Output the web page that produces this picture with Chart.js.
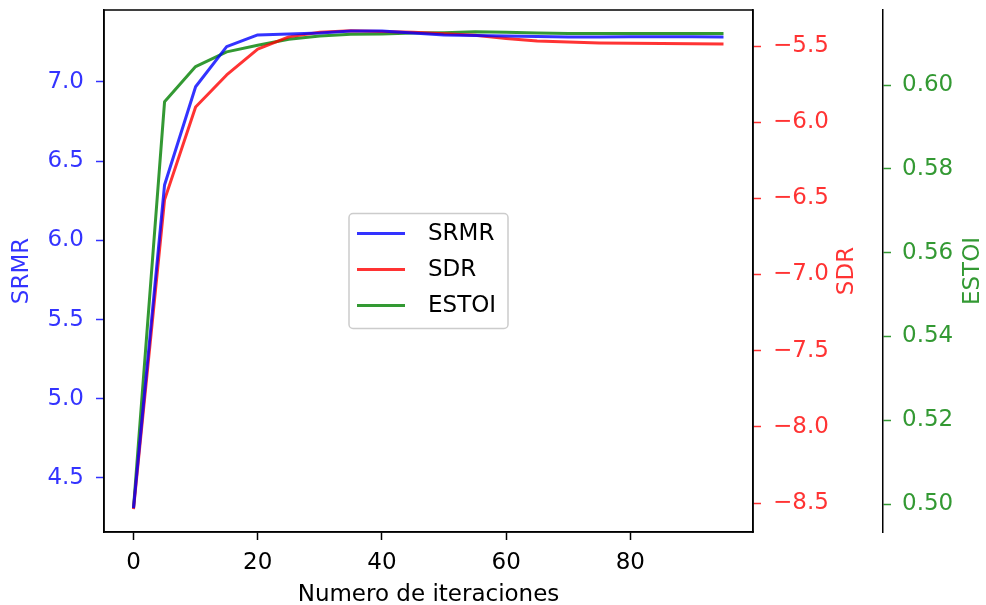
<!DOCTYPE html>
<html>
<head>
<meta charset="utf-8">
<script src="https://cdn.jsdelivr.net/npm/chart.js@4.4.0/dist/chart.umd.min.js"></script>
<style>
  html, body { margin: 0; padding: 0; background: #fff; }
</style>
</head>
<body>
<canvas id="chart" width="986" height="605"></canvas>
<script>
// values
const iterations = [0, 5, 10, 15, 20, 25, 30, 35, 40, 45, 50, 55, 60, 65, 70, 75, 80, 85, 90, 95];
const srmr = [4.31, 6.35, 6.97, 7.223, 7.297, 7.303, 7.309, 7.322, 7.322, 7.309, 7.297, 7.294, 7.29, 7.287, 7.284, 7.284, 7.286, 7.286, 7.286, 7.284];
const sdr = [-8.54, -6.51, -5.90, -5.69, -5.52, -5.44, -5.41, -5.40, -5.405, -5.41, -5.42, -5.43, -5.45, -5.467, -5.474, -5.48, -5.482, -5.483, -5.485, -5.487];
const estoi = [0.499, 0.596, 0.6044, 0.6079, 0.6095, 0.6109, 0.6117, 0.6121, 0.6122, 0.6124, 0.6125, 0.6127, 0.6126, 0.6124, 0.6123, 0.6123, 0.6123, 0.6123, 0.6123, 0.6123];

const xTicks = [0, 20, 40, 60, 80];
const srmrTicks = [4.5, 5.0, 5.5, 6.0, 6.5, 7.0];
const sdrTicks = [-8.5, -8.0, -7.5, -7.0, -6.5, -6.0, -5.5];
const estoiTicks = [0.50, 0.52, 0.54, 0.56, 0.58, 0.60];

const BLUE = 'rgba(0,0,255,0.8)';
const RED = 'rgba(255,0,0,0.8)';
const GREEN = 'rgba(0,128,0,0.8)';
const FONT = { family: 'DejaVu Sans', size: 23 };

const toPoints = (ys) => iterations.map((x, i) => ({ x, y: ys[i] }));
const setTicks = (list) => (axis) => { axis.ticks = list.map((v) => ({ value: v })); };
const fixWidth = (w) => (axis) => { axis.width = w; axis.paddingTop = 0; axis.paddingBottom = 0; };
const minus = (v, d) => (v < 0 ? '\u2212' : '') + Math.abs(v).toFixed(d);

// black box round the plot area
const frame = {
  id: 'frame',
  afterDatasetsDraw(chart) {
    const { ctx, chartArea: a } = chart;
    ctx.save();
    ctx.strokeStyle = '#000';
    ctx.lineWidth = 1.5;
    ctx.strokeRect(a.left, a.top, a.right - a.left, a.bottom - a.top);
    ctx.restore();
  },
};

// right-side axis titles, read bottom to top as in the reference
const rightTitles = {
  id: 'rightTitles',
  afterDraw(chart) {
    const { ctx, chartArea: a } = chart;
    [['ySdr', 36], ['yEstoi', 13]].forEach(([id, off]) => {
      const s = chart.scales[id];
      ctx.save();
      ctx.translate(s.right - off, (a.top + a.bottom) / 2);
      ctx.rotate(-Math.PI / 2);
      ctx.font = `${FONT.size}px ${FONT.family}`;
      ctx.fillStyle = s.options.title.color;
      ctx.textAlign = 'center';
      ctx.textBaseline = 'middle';
      ctx.fillText(s.options.title.text, 0, 0);
      ctx.restore();
    });
  },
};

// legend box in the middle of the plot
const centerLegend = {
  id: 'centerLegend',
  afterDraw(chart) {
    const { ctx, chartArea: a } = chart;
    const w = 159, h = 115;
    const left = (a.left + a.right) / 2 - w / 2;
    const top = (a.top + a.bottom) / 2 - h / 2;
    ctx.save();
    ctx.fillStyle = 'rgba(255,255,255,0.8)';
    ctx.strokeStyle = '#cccccc';
    ctx.lineWidth = 1.5;
    ctx.beginPath();
    ctx.roundRect(left, top, w, h, 4);
    ctx.fill();
    ctx.stroke();
    ctx.font = `${FONT.size}px ${FONT.family}`;
    ctx.textBaseline = 'middle';
    chart.data.datasets.forEach((ds, i) => {
      const y = top + 20 + i * 36;
      ctx.strokeStyle = ds.borderColor;
      ctx.lineWidth = 3;
      ctx.beginPath();
      ctx.moveTo(left + 8, y);
      ctx.lineTo(left + 56, y);
      ctx.stroke();
      ctx.fillStyle = '#000';
      ctx.fillText(ds.label, left + 79, y + 1);
    });
    ctx.restore();
  },
};

new Chart(document.getElementById('chart'), {
  type: 'line',
  data: {
    datasets: [
      { label: 'SRMR', data: toPoints(srmr), yAxisID: 'ySrmr', borderColor: BLUE },
      { label: 'SDR', data: toPoints(sdr), yAxisID: 'ySdr', borderColor: RED },
      { label: 'ESTOI', data: toPoints(estoi), yAxisID: 'yEstoi', borderColor: GREEN },
    ],
  },
  options: {
    responsive: false,
    animation: false,
    layout: { padding: { top: 10, left: 0, right: 0, bottom: 0 } },
    elements: {
      line: { borderWidth: 3, tension: 0, fill: false, borderJoinStyle: 'round' },
      point: { radius: 0, hoverRadius: 0 },
    },
    plugins: { legend: { display: false }, tooltip: { enabled: false } },
    scales: {
      x: {
        type: 'linear',
        position: 'bottom',
        min: -4.75,
        max: 99.75,
        afterBuildTicks: setTicks(xTicks),
        afterFit: (axis) => { axis.height = 73; axis.paddingLeft = 0; axis.paddingRight = 0; },
        ticks: { color: '#000', font: FONT, padding: 9, maxRotation: 0, callback: (v) => String(v) },
        grid: { drawOnChartArea: false, tickLength: 8, tickColor: '#000', tickWidth: 1.5 },
        border: { color: '#000', width: 1.5 },
        title: { display: true, text: 'Numero de iteraciones', color: '#000', font: FONT, padding: { top: 0, bottom: -4 } },
      },
      ySrmr: {
        type: 'linear',
        position: 'left',
        min: 4.159,
        max: 7.4545,
        afterBuildTicks: setTicks(srmrTicks),
        afterFit: fixWidth(104),
        ticks: { color: BLUE, font: FONT, padding: 12, callback: (v) => v.toFixed(1) },
        grid: { drawOnChartArea: false, tickLength: 8, tickColor: BLUE, tickWidth: 1.5 },
        border: { color: '#000', width: 1.5 },
        title: { display: true, text: 'SRMR', color: BLUE, font: FONT, padding: { top: 8, bottom: 0 } },
      },
      ySdr: {
        type: 'linear',
        position: 'right',
        min: -8.69,
        max: -5.2637,
        afterBuildTicks: setTicks(sdrTicks),
        afterFit: fixWidth(130),
        ticks: { color: RED, font: FONT, padding: 12, callback: (v) => minus(v, 1) },
        grid: { drawOnChartArea: false, tickLength: 8, tickColor: RED, tickWidth: 1.5 },
        border: { color: '#000', width: 1.5 },
        title: { display: false, text: 'SDR', color: RED },
      },
      yEstoi: {
        type: 'linear',
        position: 'right',
        min: 0.49332,
        max: 0.6179,
        afterBuildTicks: setTicks(estoiTicks),
        afterFit: fixWidth(103),
        ticks: { color: GREEN, font: FONT, padding: 11, callback: (v) => v.toFixed(2) },
        grid: { drawOnChartArea: false, tickLength: 8, tickColor: GREEN, tickWidth: 1.5 },
        border: { color: '#000', width: 1.5 },
        title: { display: false, text: 'ESTOI', color: GREEN },
      },
    },
  },
  plugins: [frame, rightTitles, centerLegend],
});
</script>
</body>
</html>
